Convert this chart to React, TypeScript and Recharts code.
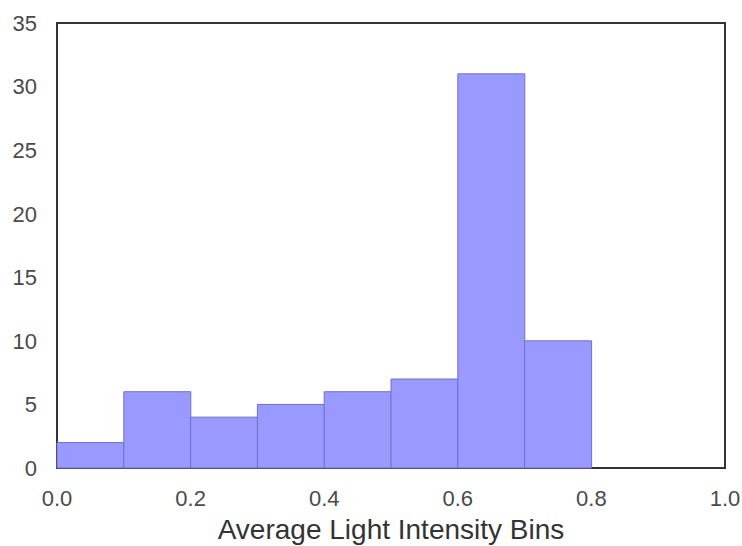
import React from "react";
import { ComposedChart, Bar, XAxis, YAxis, ReferenceArea } from "recharts";

const binCenters = [0.05, 0.15, 0.25, 0.35, 0.45, 0.55, 0.65, 0.75];
const counts = [2, 6, 4, 5, 6, 7, 31, 10];
const xTicks = [0, 0.2, 0.4, 0.6, 0.8, 1.0];
const yTicks = [0, 5, 10, 15, 20, 25, 30, 35];
const xLabel = "Average Light Intensity Bins";

const data = binCenters.map((c, i) => ({ x: c, count: counts[i] }));

const font = "'Liberation Sans', Arial, sans-serif";

export default function App() {
  return (
    <div style={{ position: "absolute", left: 0, top: 0, background: "#fff" }}>
      <ComposedChart
        width={742}
        height={546}
        data={data}
        margin={{ top: 23, right: 17, bottom: 0, left: 0 }}
        barCategoryGap={0}
        barGap={0}
      >
        <XAxis
          dataKey="x"
          type="number"
          domain={[0, 1]}
          ticks={xTicks}
          tickFormatter={(v: number) => v.toFixed(1)}
          height={78}
          axisLine={false}
          tickLine={false}
          tickMargin={16}
          tick={{ fill: "#4a4a4a", fontSize: 22, fontFamily: font }}
          label={{
            value: xLabel,
            position: "insideBottom",
            offset: 7,
            fill: "#333",
            fontSize: 28,
            fontFamily: font,
          }}
        />
        <YAxis
          type="number"
          domain={[0, 35]}
          ticks={yTicks}
          width={57}
          axisLine={false}
          tickLine={false}
          tickMargin={14}
          tick={{ fill: "#4a4a4a", fontSize: 22, fontFamily: font }}
        />
        <Bar
          dataKey="count"
          fill="#9999ff"
          stroke="#7070cc"
          strokeWidth={1}
          isAnimationActive={false}
        />
        <ReferenceArea
          x1={0}
          x2={1}
          y1={0}
          y2={35}
          fill="none"
          stroke="#333"
          strokeWidth={2}
          fillOpacity={0}
        />
      </ComposedChart>
    </div>
  );
}
